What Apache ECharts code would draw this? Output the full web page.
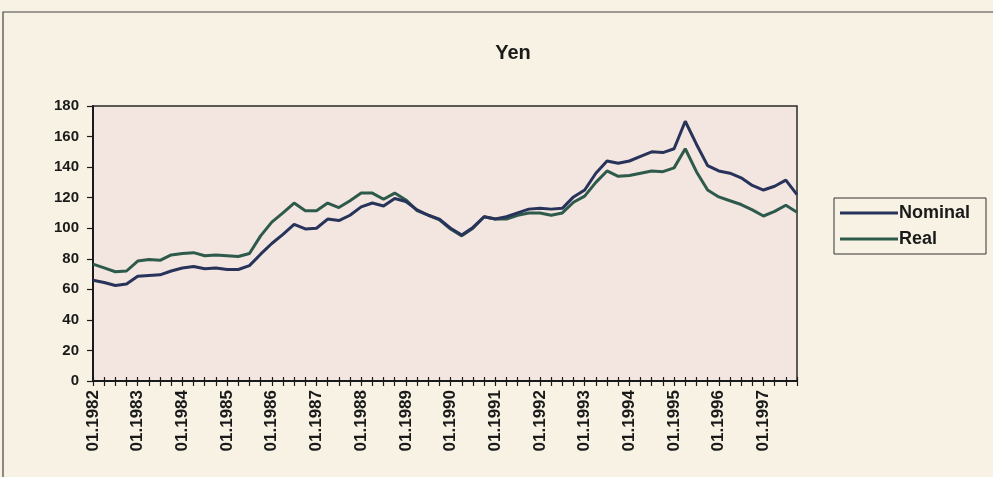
<!DOCTYPE html>
<html>
<head>
<meta charset="utf-8">
<script src="https://cdn.jsdelivr.net/npm/echarts@6/dist/echarts.min.js"></script>
<style>
html,body{margin:0;padding:0;background:#f6f1e3;}
#c{width:993px;height:477px;}
</style>
</head>
<body>
<div id="c"></div>
<script>
var years = [1982,1983,1984,1985,1986,1987,1988,1989,1990,1991,1992,1993,1994,1995,1996,1997];
var months = ["01","04","07","10"];
var categories = [];
years.forEach(function(y){ months.forEach(function(m){ categories.push(m + "." + y); }); });

var nominal = [66, 64.5, 62.5, 63.5, 68.5, 69, 69.5, 72, 74, 75,
  73.5, 74, 73, 73, 75.5, 83, 90, 96, 102.5, 99.5,
  100, 106, 105, 108.5, 114, 116.5, 114.5, 119.5, 117.5, 112,
  108.5, 106, 100, 95.5, 100.5, 107.5, 106, 107.5, 110, 112.5,
  113, 112.5, 113, 120.5, 125, 136, 144, 142.5, 144, 147,
  150, 149.5, 152, 170, 155, 141, 137.5, 136, 133, 128,
  125, 127.5, 131.5, 122];
var real = [76.5, 74, 71.5, 72, 78.5, 79.5, 79, 82.5, 83.5, 84,
  82, 82.5, 82, 81.5, 83.5, 95, 104, 110, 116.5, 111.5,
  111.5, 116.5, 113.5, 118, 123, 123, 119, 123, 118.5, 111.5,
  108.5, 105.5, 99.5, 95, 100, 107.5, 106, 106, 108.5, 110,
  110, 108.5, 110, 117, 121, 130, 137.5, 134, 134.5, 136,
  137.5, 137, 139.5, 152, 137, 125, 120.5, 118, 115.5, 112,
  108, 111, 115, 110.5];
var seriesNames = ["Nominal", "Real"];
var titleText = "Yen";

var font = "'Liberation Sans', Arial, sans-serif";
var chart = echarts.init(document.getElementById('c'));
chart.setOption({
  backgroundColor: '#f7f2e3',
  animation: false,
  title: {
    text: titleText, left: 508, top: 38, textAlign: 'center',
    textStyle: {fontFamily: font, fontWeight: 'bold', fontSize: 20, color: '#1a1a1a'}
  },
  graphic: [{
    type: 'rect', shape: {x: 3, y: 12, width: 1000, height: 480},
    style: {fill: 'none', stroke: '#444', lineWidth: 1.2}, silent: true
  }],
  legend: {
    orient: 'vertical', left: 834, top: 198,
    padding: [6, 16, 6, 6], itemGap: 8,
    borderColor: '#333', borderWidth: 1, backgroundColor: '#f7f2e3',
    itemWidth: 58, itemHeight: 3, icon: 'rect',
    textStyle: {fontFamily: font, fontWeight: 'bold', fontSize: 18, color: '#1a1a1a', padding: [0,0,0,-4]},
    data: seriesNames
  },
  grid: {
    left: 93, top: 106, right: 196, bottom: 96,
    show: true, backgroundColor: '#f3e5df', borderColor: '#2a2a2a', borderWidth: 1.5
  },
  xAxis: [{
    type: 'category', data: categories, boundaryGap: false,
    axisLine: {lineStyle: {color: '#1a1a1a', width: 2}},
    axisTick: {interval: 0, length: 5, lineStyle: {color: '#1a1a1a', width: 1.2}},
    axisLabel: {
      interval: 3, rotate: 90, margin: 9,
      fontFamily: font, fontWeight: 'bold', fontSize: 17, color: '#1a1a1a'
    },
    splitLine: {show: false}
  }, {
    type: 'category', data: categories, boundaryGap: false, position: 'bottom',
    axisLine: {show: false},
    axisTick: {interval: 0, inside: true, length: 4, lineStyle: {color: '#1a1a1a', width: 1.2}},
    axisLabel: {show: false}, splitLine: {show: false}
  }],
  yAxis: {
    type: 'value', min: 0, max: 180, interval: 20,
    axisLine: {show: true, lineStyle: {color: '#1a1a1a', width: 2}},
    axisTick: {show: true, length: 6, lineStyle: {color: '#1a1a1a', width: 1.2}},
    axisLabel: {fontFamily: font, fontWeight: 'bold', fontSize: 15, color: '#1a1a1a', margin: 14},
    splitLine: {show: false}
  },
  series: [{
    name: seriesNames[0], type: 'line', data: nominal, showSymbol: false,
    lineStyle: {color: '#27335a', width: 3}, itemStyle: {color: '#27335a'}, z: 3
  }, {
    name: seriesNames[1], type: 'line', data: real, showSymbol: false,
    lineStyle: {color: '#2e5a4c', width: 3}, itemStyle: {color: '#2e5a4c'}, z: 2
  }]
});
</script>
</body>
</html>
